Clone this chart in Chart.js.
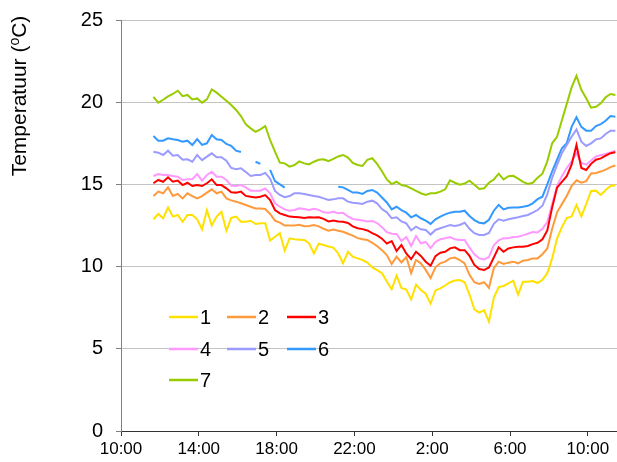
<!DOCTYPE html>
<html>
<head>
<meta charset="utf-8">
<script src="https://cdn.jsdelivr.net/npm/chart.js@4/dist/chart.umd.min.js"></script>
<style>
html,body{margin:0;padding:0;background:#fff;}
#wrap{width:617px;height:462px;}
</style>
</head>
<body>
<div id="wrap"><canvas id="c" width="617" height="462"></canvas></div>
<script>
// ---- DATA ----
const times = [
 "11:40","11:55","12:10","12:25","12:40","12:55","13:10","13:25","13:40","13:55",
 "14:10","14:25","14:40","14:55","15:10","15:25","15:40","15:55","16:10","16:25",
 "16:40","16:55","17:10","17:25","17:40","17:55","18:10","18:25","18:40","18:55",
 "19:10","19:25","19:40","19:55","20:10","20:25","20:40","20:55","21:10","21:25",
 "21:40","21:55","22:10","22:25","22:40","22:55","23:10","23:25","23:40","23:55",
 "0:10","0:25","0:40","0:55","1:10","1:25","1:40","1:55","2:10","2:25",
 "2:40","2:55","3:10","3:25","3:40","3:55","4:10","4:25","4:40","4:55",
 "5:10","5:25","5:40","5:55","6:10","6:25","6:40","6:55","7:10","7:25",
 "7:40","7:55","8:10","8:25","8:40","8:55","9:10","9:25","9:40","9:55",
 "10:10","10:25","10:40","10:55","11:10","11:25"
];
const seriesNames = ["1","2","3","4","5","6","7"];
const s1 = [12.88,13.2,12.94,13.6,13.04,13.14,12.73,13.14,13.14,12.88,
 12.27,13.44,12.5,13.04,13.34,12.18,12.96,13.04,12.73,12.73,
 12.79,12.59,12.63,12.63,11.58,11.82,12.03,10.97,11.72,11.66,
 11.64,11.62,11.42,10.8,11.4,11.31,11.22,11.15,10.8,10.2,
 10.9,10.6,10.5,10.4,10.25,9.95,9.78,9.6,9.1,8.62,
 9.45,8.7,8.6,8.0,8.9,8.58,8.35,7.75,8.55,8.68,
 8.85,9.05,9.15,9.18,9.05,8.3,7.4,7.2,7.35,6.65,
 8.1,8.75,8.82,8.98,9.14,8.3,9.08,9.08,9.12,9.0,
 9.2,9.6,10.5,11.7,12.4,12.95,13.05,13.75,13.05,13.8,
 14.6,14.62,14.36,14.66,14.9,14.95];
const s2 = [14.29,14.56,14.46,14.82,14.3,14.42,14.15,14.46,14.29,14.15,
 14.29,14.5,14.7,14.46,14.56,14.15,14.03,13.95,13.85,13.75,
 13.64,13.54,13.54,13.5,13.2,12.8,12.68,12.5,12.5,12.5,
 12.55,12.45,12.47,12.53,12.45,12.3,12.18,12.25,12.18,12.12,
 12.0,11.88,11.73,11.66,11.62,11.45,11.25,11.0,10.7,10.15,
 10.6,10.25,10.58,9.6,10.4,10.2,9.8,9.3,9.96,10.2,
 10.3,10.5,10.55,10.4,10.2,9.5,9.05,8.94,9.05,8.7,
 9.9,10.3,10.16,10.24,10.3,10.2,10.36,10.4,10.5,10.5,
 10.75,11.1,12.3,13.3,13.8,14.3,14.9,15.25,15.1,15.2,
 15.67,15.7,15.78,15.9,16.05,16.15];
const s3 = [15.07,15.27,15.16,15.43,15.16,15.23,14.96,15.1,14.9,14.96,
 14.9,15.07,15.31,14.96,14.96,14.76,14.52,14.5,14.56,14.3,
 14.25,14.21,14.25,14.35,14.05,13.44,13.24,13.14,13.04,13.02,
 13.0,12.95,13.0,12.98,13.0,12.9,12.75,12.8,12.75,12.73,
 12.65,12.45,12.33,12.28,12.2,12.03,11.9,11.7,11.4,11.55,
 10.95,11.31,10.8,10.45,10.9,10.65,10.3,10.05,10.64,10.84,
 10.9,11.11,11.17,11.0,11.0,10.65,10.1,9.85,9.79,9.95,
 10.55,11.17,10.9,11.1,11.17,11.21,11.21,11.25,11.37,11.45,
 11.66,12.2,13.6,14.8,15.15,15.5,16.2,17.4,16.0,15.88,
 16.25,16.5,16.58,16.75,16.9,16.95];
const s4 = [15.51,15.63,15.57,15.57,15.51,15.47,15.27,15.31,15.31,15.63,
 15.23,15.57,15.77,15.47,15.47,15.27,14.92,14.9,14.96,14.82,
 14.62,14.62,14.62,14.75,14.46,13.85,13.64,13.48,13.4,13.44,
 13.55,13.5,13.44,13.52,13.45,13.3,13.28,13.33,13.25,13.27,
 13.05,12.9,12.85,12.8,12.75,12.78,12.65,12.4,12.1,12.0,
 11.98,11.55,11.8,11.25,11.86,11.42,11.5,11.12,11.5,11.66,
 11.72,11.8,11.66,11.62,11.62,11.15,10.75,10.5,10.44,10.58,
 11.3,11.6,11.72,11.72,11.8,11.82,11.9,12.0,12.1,12.08,
 12.3,12.7,13.8,14.9,15.5,16.0,16.4,16.9,16.3,16.2,
 16.45,16.7,16.78,16.85,16.95,17.05];
const s5 = [16.99,16.93,16.79,17.05,16.75,16.79,16.5,16.53,16.38,16.79,
 16.48,16.69,16.89,16.65,16.65,16.44,16.0,15.92,15.98,15.75,
 15.51,15.57,15.57,15.7,15.35,14.6,14.36,14.22,14.29,14.46,
 14.46,14.42,14.36,14.29,14.25,14.15,14.05,14.09,14.15,14.15,
 13.95,13.89,13.85,13.81,13.95,14.01,13.85,13.5,13.3,12.94,
 13.0,12.75,12.63,12.2,12.43,12.27,12.23,11.95,12.23,12.33,
 12.43,12.53,12.47,12.53,12.67,12.3,12.03,11.92,11.92,12.05,
 12.6,12.88,12.79,12.88,12.94,13.0,13.08,13.14,13.28,13.44,
 13.7,14.4,15.4,16.18,16.9,17.4,17.9,18.35,17.6,17.34,
 17.5,17.74,17.8,18.07,18.27,18.27];
const s6 = [17.94,17.66,17.66,17.8,17.74,17.7,17.6,17.66,17.4,17.76,
 17.4,17.5,18.0,17.74,17.7,17.46,17.34,17.05,16.97,null,
 null,16.38,16.25,null,15.88,15.2,15.0,14.8,null,null,
 null,null,null,null,null,null,null,null,14.86,14.82,
 14.66,14.5,14.5,14.42,14.6,14.66,14.5,14.2,13.9,13.48,
 13.64,13.44,13.28,13.0,13.14,12.94,12.8,12.6,12.88,13.04,
 13.18,13.28,13.34,13.34,13.4,13.08,12.83,12.67,12.63,12.85,
 13.4,13.75,13.48,13.58,13.6,13.6,13.64,13.7,13.85,14.1,
 14.25,15.0,15.8,16.5,17.2,17.5,18.5,19.08,18.5,18.27,
 18.27,18.55,18.67,18.87,19.16,19.12];
const s7 = [20.33,19.97,20.15,20.35,20.5,20.7,20.37,20.44,20.17,20.23,
 19.97,20.17,20.78,20.58,20.33,20.09,19.83,19.53,19.16,18.65,
 18.41,18.2,18.35,18.55,17.7,16.99,16.32,16.28,16.08,16.18,
 16.4,16.28,16.22,16.38,16.5,16.53,16.42,16.55,16.7,16.79,
 16.63,16.3,16.18,16.12,16.5,16.59,16.25,15.8,15.3,15.02,
 15.16,14.96,14.9,14.76,14.6,14.46,14.36,14.46,14.46,14.56,
 14.7,15.25,15.1,14.98,15.05,15.23,14.98,14.72,14.76,15.1,
 15.3,15.65,15.3,15.5,15.52,15.35,15.15,15.03,15.1,15.4,
 15.65,16.4,17.5,17.9,18.9,19.9,20.9,21.6,20.75,20.24,
 19.67,19.72,19.93,20.3,20.5,20.44];
const yTicks = [0,5,10,15,20,25];
const xTickHours = [10,14,18,22,26,30,34];
const yTitleMain = "Temperatuur (";
const yTitleSup = "o";
const yTitleEnd = "C)";

// ---- BUILD ----
const colors = ["#ffe100","#ff9a3c","#ff0000","#ff99ff","#9b9bff","#3399ff","#99cc00"];
const seriesValues = [s1,s2,s3,s4,s5,s6,s7];
let dayOffset = 0, prev = -1;
const hours = times.map(t => {
  const [h,m] = t.split(":").map(Number);
  if (h < prev) dayOffset += 24;
  prev = h;
  return h + m/60 + dayOffset;
});
const datasets = seriesValues.map((vals,k) => ({
  label: seriesNames[k],
  data: vals.map((v,i) => ({x: hours[i], y: v})),
  borderColor: colors[k],
  backgroundColor: colors[k],
  borderWidth: 2,
  pointRadius: 0,
  tension: 0,
  spanGaps: false,
  fill: false
}));

const FONT = 'Arial, "Liberation Sans", sans-serif';

const overlay = {
  id: 'overlay',
  afterDraw(chart) {
    const ctx = chart.ctx;
    // y axis title
    ctx.save();
    ctx.fillStyle = '#000';
    ctx.translate(20, 96);
    ctx.rotate(-Math.PI/2);
    ctx.textBaseline = 'middle';
    ctx.font = '21px ' + FONT;
    const w1 = ctx.measureText(yTitleMain).width;
    ctx.font = '14px ' + FONT;
    const w2 = ctx.measureText(yTitleSup).width;
    ctx.font = '21px ' + FONT;
    const w3 = ctx.measureText(yTitleEnd).width;
    let x = -(w1 + w2 + w3)/2;
    ctx.textAlign = 'left';
    ctx.fillText(yTitleMain, x, 0); x += w1;
    ctx.font = '14px ' + FONT;
    ctx.fillText(yTitleSup, x, -5); x += w2;
    ctx.font = '21px ' + FONT;
    ctx.fillText(yTitleEnd, x, 0);
    ctx.restore();

    // legend (3 columns)
    const area = chart.chartArea;
    const colX = [area.left + 48, area.left + 106, area.left + 166];
    const rowY = [317, 349, 380];
    ctx.save();
    ctx.font = '20px ' + FONT;
    ctx.textBaseline = 'middle';
    ctx.textAlign = 'left';
    chart.data.datasets.forEach((ds, k) => {
      const cx = colX[k % 3], cy = rowY[Math.floor(k/3)];
      ctx.strokeStyle = ds.borderColor;
      ctx.lineWidth = 2.5;
      ctx.beginPath();
      ctx.moveTo(cx, cy);
      ctx.lineTo(cx + 29, cy);
      ctx.stroke();
      ctx.fillStyle = '#000';
      ctx.fillText(ds.label, cx + 31, cy + 1);
    });
    ctx.restore();
  }
};

new Chart(document.getElementById('c'), {
  type: 'line',
  data: { datasets },
  options: {
    responsive: false,
    animation: false,
    devicePixelRatio: 1,
    layout: { padding: { top: 10, right: 0, left: 0, bottom: 0 } },
    plugins: { legend: { display: false }, tooltip: { enabled: false } },
    scales: {
      x: {
        type: 'linear',
        min: 10,
        max: 35.5,
        afterFit: s => { s.height = 31; },
        afterBuildTicks: s => { s.ticks = xTickHours.map(v => ({value: v})); },
        ticks: {
          includeBounds: false,
          autoSkip: false,
          maxRotation: 0,
          padding: 3,
          color: '#000',
          font: { family: FONT, size: 17 },
          callback: v => (v % 24) + ':00'
        },
        grid: { drawOnChartArea: false, drawTicks: true, tickLength: 5, tickColor: '#333' },
        border: { display: true, color: '#333', width: 1 }
      },
      y: {
        min: 0,
        max: 25,
        afterFit: s => { s.width = 121; },
        afterBuildTicks: s => { s.ticks = yTicks.map(v => ({value: v})); },
        ticks: {
          padding: 13,
          color: '#000',
          font: { family: FONT, size: 20, lineHeight: 0.7 }
        },
        grid: {
          color: '#c4c4c4',
          borderDash: [2, 2],
          tickLength: 5,
          tickColor: '#808080',
          tickBorderDash: [],
          drawTicks: true
        },
        border: { display: true, color: '#808080', width: 1 }
      }
    }
  },
  plugins: [overlay]
});
</script>
</body>
</html>
